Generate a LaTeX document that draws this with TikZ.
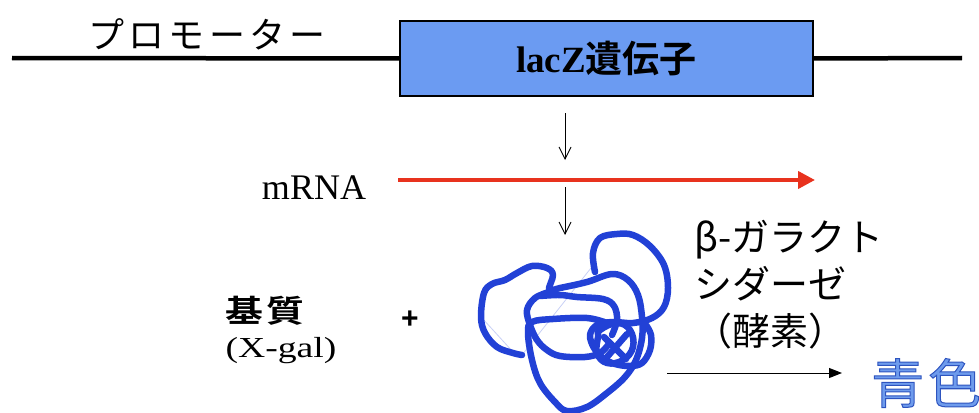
\documentclass[tikz,border=0pt]{standalone}
\usepackage{fontspec}
\setmainfont{Liberation Serif}
\newfontfamily\jpfont{Noto Sans CJK JP}[BoldFont={Noto Sans CJK JP Bold}]
\newfontfamily\plusfont{Liberation Sans}
\definecolor{geneblue}{HTML}{6B9BF2}
\definecolor{mrnared}{HTML}{E8321E}
\definecolor{enzblue}{HTML}{2241D6}
\definecolor{skyblue}{HTML}{6E9BEC}
\usetikzlibrary{arrows.meta, positioning}
\newcommand{\widetext}[2]{\scalebox{#1}[1]{#2}}

\begin{document}
\begin{tikzpicture}[x=1pt, y=-1pt,
      dna/.style={line width=4.5pt},
      thinarrow/.style={-{Straight Barb[length=12pt,width=12pt]}, line width=0.9pt},
      enzyme/.style={enzblue, line width=6.5pt, line cap=round, line join=round},
      jp/.style={inner sep=0pt, font=\jpfont\fontsize{37}{46}\selectfont}]
   \useasboundingbox (0,0) rectangle (979,412);
   % DNA strand with the lacZ gene
   \node[draw=black, line width=1.2pt, fill=geneblue, minimum width=413pt,
      minimum height=75pt, inner sep=0pt] (lacZ) at (606.5,58.5)
      {\fontsize{37}{40}\selectfont\bfseries lacZ{\jpfont 遺伝子}};
   \coordinate (dnaL) at (12,58);
   \coordinate (dnaR) at (962,58);
   \draw[dna] (dnaL) -- (lacZ.west);
   \draw[dna] (lacZ.east) -- (dnaR);
   \node[jp, font=\jpfont\fontsize{36}{40}\selectfont\addfontfeature{LetterSpace=12}]
      (promoter) at (207,34) {プロモーター};

   % transcription
   \coordinate (tx1) at (565,113);
   \coordinate (tx2) at (565,160);
   \draw[thinarrow] (tx1) -- (tx2);
   \coordinate (mL) at (398,180);
   \coordinate (mR) at (815,180);
   \draw[mrnared, line width=4pt, -{Triangle[length=17pt,width=17pt]}] (mL) -- (mR);
   \node[inner sep=0pt, font=\fontsize{36}{40}\selectfont] (mrna) at (314,188) {mRNA};

   % translation
   \coordinate (tl1) at (565,187);
   \coordinate (tl2) at (565,235);
   \draw[thinarrow] (tl1) -- (tl2);

   % the enzyme as a tangled chain
   \draw[enzblue!25, line width=0.8pt] (522,355) -- (591,268);
   \draw[enzblue!25, line width=0.8pt] (482,318) -- (514,353);
   \draw[enzyme] plot[smooth, tension=0.6] coordinates {
      (522,355) (513,353) (497,347) (485,333) (481,317) (484,293) (492,284)
      (505,280) (517,273) (532,266) (547,268) (553,275) (549,290) (560,288)
      (587,282) (612,274) (628,280) (638,295) (642,317) (642,338) (636,360)
      (625,377) (607,393) (587,407) (567,411) (555,402) (540,383) (532,360)
      (528,333) (532,322) (553,319) (587,318) (607,323)};
   \draw[enzyme] plot[smooth, tension=0.6] coordinates {
      (595,272) (593,253) (600,238) (617,234) (633,235) (650,246) (664,265)
      (668,288) (664,307) (652,318) (633,323) (613,322) (597,325) (590,335)
      (594,348) (603,358) (615,364) (630,366) (642,363) (650,350) (651,335)
      (646,325)};
   \draw[enzyme] plot[smooth, tension=0.6] coordinates {
      (549,292) (535,298) (527,310) (530,325) (537,340) (547,350) (560,356)
      (585,357) (600,353) (608,345)};
   \draw[enzyme] plot[smooth, tension=0.6] coordinates {
      (540,296) (560,295) (577,297) (603,299) (614,306) (617,320) (612,335)};
   \draw[enzyme] plot[smooth cycle, tension=0.7] coordinates {
      (600,330) (617,323) (630,330) (633,347) (623,360) (607,363) (597,353)
      (598,337)};
   \draw[enzyme] (604,337) -- (626,359);
   \draw[enzyme] (627,334) -- (607,357);

   % substrate and product
   \node[inner sep=0pt, font=\jpfont\bfseries\fontsize{31}{34}\selectfont]
      (substrate) at (265,311) {\widetext{1.22}{基\kern3pt 質}};
   \node[inner sep=0pt, font=\fontsize{29}{32}\selectfont] (xgal) at (281,351)
      {\widetext{1.3}{(X-gal)}};
   \node[inner sep=0pt, font=\plusfont\bfseries\fontsize{30}{32}\selectfont]
      (plus) at (410,320) {+};
   \node[jp, anchor=north west, align=left, font=\jpfont\fontsize{38}{47}\selectfont]
      (galactosidase) at (694,220) {β-ガラクト\\シダーゼ\\（酵素）};
   \coordinate (rx) at (667,373);
   \node[inner sep=0pt, anchor=west, font=\jpfont\fontsize{53}{56}\selectfont]
      (blue) at (871,383)
      {\color{skyblue}\special{pdf:literal direct 2 Tr 1 w 0.18 0.33 0.75 RG}青\kern4pt 色\special{pdf:literal direct 0 Tr}};
   \draw[line width=1pt, -{Triangle[length=13pt,width=10pt]}]
      (rx) -- ([xshift=-29pt]blue.west |- rx);
\end{tikzpicture}
\end{document}
